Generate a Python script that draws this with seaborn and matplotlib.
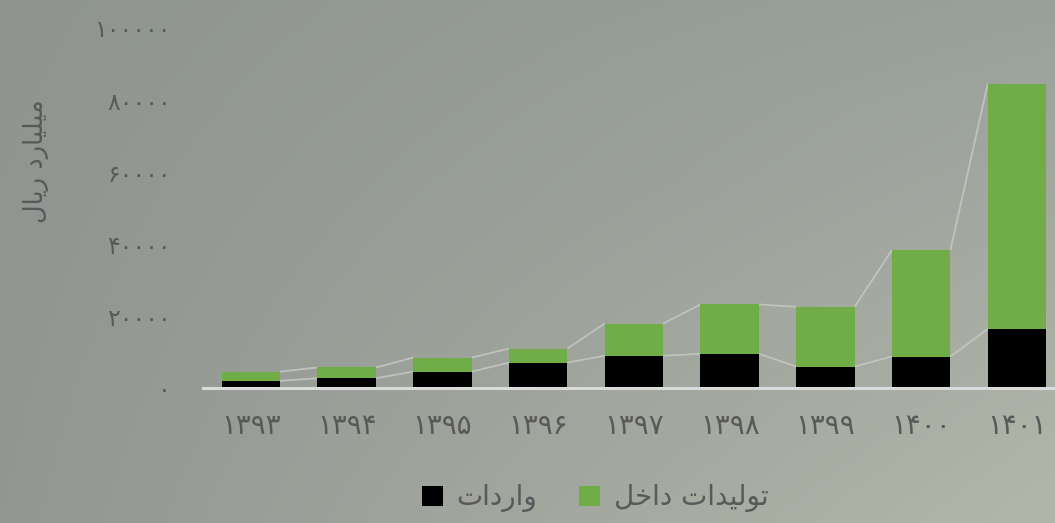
import numpy as np
import pandas as pd
import matplotlib
matplotlib.use("Agg")
import matplotlib.pyplot as plt
import seaborn as sns
from matplotlib.patches import Patch

# ---------------- data ----------------
years = ["۱۳۹۳", "۱۳۹۴", "۱۳۹۵", "۱۳۹۶", "۱۳۹۷", "۱۳۹۸", "۱۳۹۹", "۱۴۰۰", "۱۴۰۱"]
imports = [2000, 2700, 4550, 7050, 8950, 9500, 5950, 8750, 16400]
domestic = [2550, 3000, 3900, 3900, 8950, 13700, 16600, 29600, 68150]
y_ticks = [0, 20000, 40000, 60000, 80000, 100000]
y_tick_labels = ["۰", "۲۰۰۰۰", "۴۰۰۰۰", "۶۰۰۰۰", "۸۰۰۰۰", "۱۰۰۰۰۰"]
# Persian text, pre-shaped (presentation forms, visual order) since matplotlib has no bidi shaping
y_label = "\uFEDD\uFE8E\uFEF3\uFEAD \uFEA9\uFEAD\uFE8E\uFEF4\uFEE0\uFEF4\uFEE3"          # میلیارد ریال
label_imports = "\uFE95\uFE8D\uFEA9\uFEAD\uFE8D\uFEED"                                    # واردات
label_domestic = "\uFEDE\uFEA7\uFE8D\uFEA9 \uFE95\uFE8D\uFEAA\uFEF4\uFEDF\uFEEE\uFE97"    # تولیدات داخل

GREEN = "#70AD47"
BLACK = "#000000"
TEXT = "#595959"

sns.set_theme(style="white")
plt.rcParams['font.family'] = ['DejaVu Sans']

W, H = 1055, 523
fig = plt.figure(figsize=(W / 100, H / 100), dpi=100)

# background gradient
bg = fig.add_axes([0, 0, 1, 1], zorder=0)
ny, nx = 60, 120
yy, xx = np.mgrid[0:1:ny * 1j, 0:1:nx * 1j]
tl = np.array([143, 148, 143]) / 255
tr = np.array([154, 161, 156]) / 255
bl = np.array([147, 151, 147]) / 255
br = np.array([178, 183, 170]) / 255
img = ((1 - xx)[..., None] * (1 - yy)[..., None] * tl + xx[..., None] * (1 - yy)[..., None] * tr
       + (1 - xx)[..., None] * yy[..., None] * bl + xx[..., None] * yy[..., None] * br)
bg.imshow(img, aspect="auto", extent=[0, 1, 0, 1], origin="upper", interpolation="bicubic")
bg.set_axis_off()

ax = fig.add_axes([203 / W, (H - 388) / H, 1 - 203 / W, 360 / H], zorder=1)
ax.patch.set_alpha(0)

df = pd.DataFrame({"year": years, "imports": imports, "domestic": domestic})
df["total"] = df["imports"] + df["domestic"]

bw = 0.61
sns.barplot(data=df, x="year", y="total", color=GREEN, width=bw, saturation=1,
            errorbar=None, ax=ax, zorder=3, linewidth=0, edgecolor="none")
sns.barplot(data=df, x="year", y="imports", color=BLACK, width=bw, saturation=1,
            errorbar=None, ax=ax, zorder=3, linewidth=0, edgecolor="none")

# series lines between bars
for series in (df["total"].values, df["imports"].values):
    for i in range(len(years) - 1):
        ax.plot([i + bw / 2, i + 1 - bw / 2], [series[i], series[i + 1]],
                color="#C8CAC6", lw=1.3, alpha=0.8, zorder=2, solid_capstyle="butt")

ax.set_xlim(-0.5, (W - 251) / 95.75)
ax.set_ylim(0, 100000)
ax.set_yticks(y_ticks, y_tick_labels)
ax.set_xlabel("")
ax.set_ylabel("")
for s in ["top", "right", "left"]:
    ax.spines[s].set_visible(False)
ax.spines["bottom"].set_color("#DADADA")
ax.spines["bottom"].set_linewidth(2.2)
ax.spines["bottom"].set_zorder(4)
ax.tick_params(axis="both", length=0, labelcolor=TEXT)
ax.tick_params(axis="x", pad=17, labelsize=20)
ax.tick_params(axis="y", pad=23, labelsize=17)
ax.grid(False)

fig.text(36 / W, 1 - 161 / H, y_label, rotation=90, ha="center", va="center",
         color=TEXT, fontsize=18.5)

handles = [Patch(facecolor=BLACK, edgecolor="none"), Patch(facecolor=GREEN, edgecolor="none")]
fig.legend(handles, [label_imports, label_domestic], loc="center", bbox_to_anchor=(595 / W, 1 - 498 / H),
           ncol=2, frameon=False, fontsize=20, labelcolor=TEXT, handlelength=0.75, handleheight=0.75,
           handletextpad=0.5, columnspacing=1.5)

fig.savefig("out.png", dpi=100)
